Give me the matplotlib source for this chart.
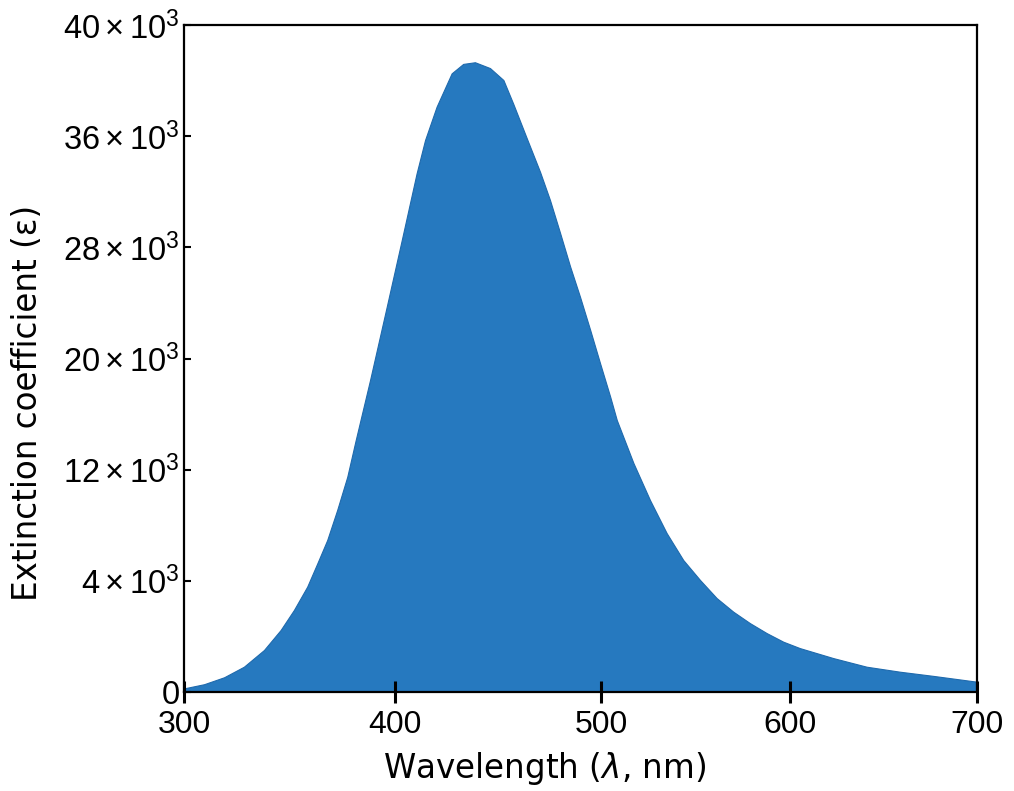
import numpy as np
import matplotlib
matplotlib.use("Agg")
import matplotlib.pyplot as plt

# spectrum (wavelength in nm, epsilon in units of 10^3)
wavelength = [300.0, 309.5, 319.0, 328.4, 337.9, 345.8, 352.1, 358.4, 363.2,
              367.9, 372.6, 377.4, 381.4, 388.2, 396.1, 403.3, 410.5, 414.6,
              420.2, 427.5, 433.1, 438.8, 446.1, 452.6, 457.4, 463.9, 470.4,
              475.2, 480.1, 484.9, 489.8, 494.7, 499.5, 504.8, 508.3, 517.1,
              525.9, 534.7, 543.5, 552.4, 561.2, 570.0, 578.8, 587.7, 596.5,
              605.3, 623.2, 641.0, 658.8, 676.6, 700.0]
eps_k = [0.13, 0.28, 0.53, 0.91, 1.51, 2.23, 2.95, 3.79, 5.26,
         6.94, 9.09, 11.49, 14.13, 18.45, 23.72, 28.52, 33.32, 35.72,
         37.06, 38.26, 38.60, 38.66, 38.45, 38.02, 37.16, 35.86, 33.42,
         31.40, 29.03, 26.65, 24.42, 22.05, 19.65, 17.25, 15.57, 12.48,
         9.81, 7.44, 5.50, 4.06, 3.38, 2.89, 2.48, 2.12, 1.81,
         1.58, 1.22, 0.91, 0.73, 0.58, 0.37]

# tick labels as drawn on the original axes
x_ticks = [300, 400, 500, 600, 700]
x_tick_pos = [0.0, 0.266, 0.526, 0.764, 1.0]   # where they sit along the axis
y_ticks = [0, 4, 12, 20, 28, 36, 40]
y_tick_pos = np.linspace(0, 1, len(y_ticks))

plt.rcParams['mathtext.fontset'] = 'custom'
plt.rcParams['mathtext.rm'] = 'Liberation Sans'
plt.rcParams['mathtext.it'] = 'Liberation Sans:italic'

fig = plt.figure(figsize=(10.14, 7.91), dpi=100)
ax = fig.add_axes([184/1014, 1 - 692/791, 793/1014, 667/791])

# the axes of the original are not linear, so map through the tick positions
ax.set_xscale('function', functions=(lambda v: np.interp(v, x_ticks, x_tick_pos),
                                     lambda p: np.interp(p, x_tick_pos, x_ticks)))
ax.set_yscale('function', functions=(lambda v: np.interp(v, y_ticks, y_tick_pos),
                                     lambda p: np.interp(p, y_tick_pos, y_ticks)))

ax.fill_between(wavelength, eps_k, 0, facecolor='#2679bf', edgecolor='#1f6aad',
                linewidth=0.8)

ax.set_xlim(300, 700)
ax.set_ylim(0, 40)
ax.set_xticks(x_ticks)
ax.set_xticklabels([str(t) for t in x_ticks], fontfamily='Liberation Sans', fontsize=23)
ax.set_yticks(y_ticks)
ax.set_yticklabels(['0'] + [r'$%d\times10^{3}$' % t for t in y_ticks[1:]],
                   fontfamily='Liberation Sans', fontsize=23.5)
ax.minorticks_off()

ax.tick_params(axis='x', direction='inout', length=16, width=2.2, pad=5, top=False)
ax.tick_params(axis='y', direction='in', length=5, width=1.5, pad=3, right=False)
for s in ax.spines.values():
    s.set_linewidth(1.6)

ax.set_xlabel(r'Wavelength ($\lambda$, nm)', fontsize=23.5, math_fontfamily='dejavusans')
ax.set_ylabel('Extinction coefficient (ε)', fontsize=23.5)
ax.xaxis.set_label_coords(0.455, -0.087)
ax.yaxis.set_label_coords(-0.177, 0.433)

fig.savefig('out.png', dpi=100)
